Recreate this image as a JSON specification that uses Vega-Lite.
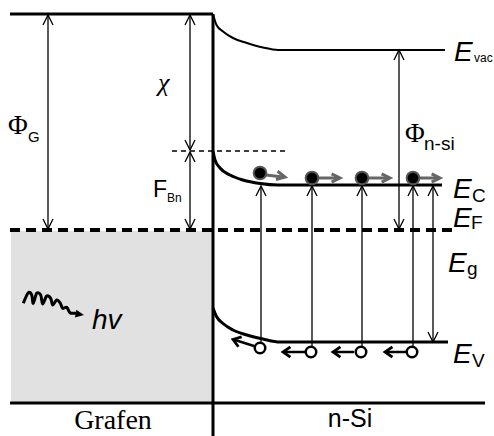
{
  "$schema": "https://vega.github.io/schema/vega-lite/v6.json",
  "width": 494,
  "height": 436,
  "padding": 0,
  "autosize": {"type": "none"},
  "background": "white",
  "config": {"view": {"stroke": null}},
  "datasets": {
    "box": [{"x": 11, "x2": 213, "y": 231, "y2": 403}],
    "lines": [
      {"id": "top", "kind": "thick", "ord": 0, "x": 10, "y": 14},
      {"id": "top", "kind": "thick", "ord": 1, "x": 213, "y": 14},
      {"id": "iface", "kind": "thick", "ord": 0, "x": 213, "y": 14},
      {"id": "iface", "kind": "thick", "ord": 1, "x": 213, "y": 436},
      {"id": "bottom", "kind": "thick", "ord": 0, "x": 10, "y": 403},
      {"id": "bottom", "kind": "thick", "ord": 1, "x": 485, "y": 403},
      {"id": "EC", "kind": "curve", "ord": 0, "x": 213, "y": 151},
      {"id": "EC", "kind": "curve", "ord": 1, "x": 215, "y": 160},
      {"id": "EC", "kind": "curve", "ord": 2, "x": 220, "y": 168},
      {"id": "EC", "kind": "curve", "ord": 3, "x": 230, "y": 175},
      {"id": "EC", "kind": "curve", "ord": 4, "x": 243, "y": 180},
      {"id": "EC", "kind": "curve", "ord": 5, "x": 260, "y": 183.5},
      {"id": "EC", "kind": "curve", "ord": 6, "x": 278, "y": 185},
      {"id": "EC", "kind": "curve", "ord": 7, "x": 442, "y": 185},
      {"id": "EV", "kind": "curve", "ord": 0, "x": 213, "y": 308},
      {"id": "EV", "kind": "curve", "ord": 1, "x": 216.5, "y": 316.5},
      {"id": "EV", "kind": "curve", "ord": 2, "x": 223, "y": 323.5},
      {"id": "EV", "kind": "curve", "ord": 3, "x": 233, "y": 330},
      {"id": "EV", "kind": "curve", "ord": 4, "x": 247, "y": 335},
      {"id": "EV", "kind": "curve", "ord": 5, "x": 263, "y": 339},
      {"id": "EV", "kind": "curve", "ord": 6, "x": 280, "y": 342},
      {"id": "EV", "kind": "curve", "ord": 7, "x": 448, "y": 342},
      {"id": "Evac", "kind": "vac", "ord": 0, "x": 213, "y": 14},
      {"id": "Evac", "kind": "vac", "ord": 1, "x": 216.5, "y": 25},
      {"id": "Evac", "kind": "vac", "ord": 2, "x": 223, "y": 31.5},
      {"id": "Evac", "kind": "vac", "ord": 3, "x": 233, "y": 38},
      {"id": "Evac", "kind": "vac", "ord": 4, "x": 247, "y": 43},
      {"id": "Evac", "kind": "vac", "ord": 5, "x": 263, "y": 47.5},
      {"id": "Evac", "kind": "vac", "ord": 6, "x": 278, "y": 50},
      {"id": "Evac", "kind": "vac", "ord": 7, "x": 445, "y": 50},
      {"id": "EF", "kind": "fermi", "ord": 0, "x": 10, "y": 230},
      {"id": "EF", "kind": "fermi", "ord": 1, "x": 458, "y": 230},
      {"id": "bar", "kind": "thindash", "ord": 0, "x": 172, "y": 151},
      {"id": "bar", "kind": "thindash", "ord": 1, "x": 288, "y": 151},
      {"id": "phiG", "kind": "arrow", "ord": 0, "x": 48, "y": 15},
      {"id": "phiG", "kind": "arrow", "ord": 1, "x": 48, "y": 229},
      {"id": "chi", "kind": "arrow", "ord": 0, "x": 190, "y": 15},
      {"id": "chi", "kind": "arrow", "ord": 1, "x": 190, "y": 150},
      {"id": "fbn", "kind": "arrow", "ord": 0, "x": 190, "y": 152},
      {"id": "fbn", "kind": "arrow", "ord": 1, "x": 190, "y": 229},
      {"id": "phin", "kind": "arrow", "ord": 0, "x": 399, "y": 50},
      {"id": "phin", "kind": "arrow", "ord": 1, "x": 399, "y": 229},
      {"id": "eg", "kind": "arrow", "ord": 0, "x": 433, "y": 186},
      {"id": "eg", "kind": "arrow", "ord": 1, "x": 433, "y": 342},
      {"id": "ex1", "kind": "arrow", "ord": 0, "x": 261, "y": 187},
      {"id": "ex1", "kind": "arrow", "ord": 1, "x": 261, "y": 342},
      {"id": "ex2", "kind": "arrow", "ord": 0, "x": 312, "y": 187},
      {"id": "ex2", "kind": "arrow", "ord": 1, "x": 312, "y": 346},
      {"id": "ex3", "kind": "arrow", "ord": 0, "x": 362, "y": 187},
      {"id": "ex3", "kind": "arrow", "ord": 1, "x": 362, "y": 346},
      {"id": "ex4", "kind": "arrow", "ord": 0, "x": 413, "y": 187},
      {"id": "ex4", "kind": "arrow", "ord": 1, "x": 413, "y": 346},
      {"id": "e1", "kind": "eflow", "ord": 0, "x": 266, "y": 175},
      {"id": "e1", "kind": "eflow", "ord": 1, "x": 283, "y": 177},
      {"id": "e2", "kind": "eflow", "ord": 0, "x": 319, "y": 178},
      {"id": "e2", "kind": "eflow", "ord": 1, "x": 337, "y": 178},
      {"id": "e3", "kind": "eflow", "ord": 0, "x": 369, "y": 178},
      {"id": "e3", "kind": "eflow", "ord": 1, "x": 387, "y": 178},
      {"id": "e4", "kind": "eflow", "ord": 0, "x": 420, "y": 178},
      {"id": "e4", "kind": "eflow", "ord": 1, "x": 437, "y": 178},
      {"id": "h1", "kind": "hflow", "ord": 0, "x": 254, "y": 346},
      {"id": "h1", "kind": "hflow", "ord": 1, "x": 235, "y": 340},
      {"id": "h2", "kind": "hflow", "ord": 0, "x": 305, "y": 352},
      {"id": "h2", "kind": "hflow", "ord": 1, "x": 285, "y": 352},
      {"id": "h3", "kind": "hflow", "ord": 0, "x": 354, "y": 352},
      {"id": "h3", "kind": "hflow", "ord": 1, "x": 335, "y": 352},
      {"id": "h4", "kind": "hflow", "ord": 0, "x": 406, "y": 352},
      {"id": "h4", "kind": "hflow", "ord": 1, "x": 387, "y": 352},
      {"id": "w", "kind": "wave", "ord": 0, "x": 23.3, "y": 303.3},
      {"id": "w", "kind": "wave", "ord": 1, "x": 28.3, "y": 292.7},
      {"id": "w", "kind": "wave", "ord": 2, "x": 31.7, "y": 295},
      {"id": "w", "kind": "wave", "ord": 3, "x": 33.3, "y": 303.3},
      {"id": "w", "kind": "wave", "ord": 4, "x": 36.7, "y": 293.3},
      {"id": "w", "kind": "wave", "ord": 5, "x": 40.7, "y": 295},
      {"id": "w", "kind": "wave", "ord": 6, "x": 42.7, "y": 304},
      {"id": "w", "kind": "wave", "ord": 7, "x": 46.7, "y": 296},
      {"id": "w", "kind": "wave", "ord": 8, "x": 50.7, "y": 298.3},
      {"id": "w", "kind": "wave", "ord": 9, "x": 52.7, "y": 305},
      {"id": "w", "kind": "wave", "ord": 10, "x": 56.7, "y": 300},
      {"id": "w", "kind": "wave", "ord": 11, "x": 60, "y": 302.7},
      {"id": "w", "kind": "wave", "ord": 12, "x": 62.7, "y": 308.3},
      {"id": "w", "kind": "wave", "ord": 13, "x": 66.7, "y": 307.3},
      {"id": "w", "kind": "wave", "ord": 14, "x": 70, "y": 312.7},
      {"id": "w", "kind": "wave", "ord": 15, "x": 75, "y": 313.3},
      {"id": "w", "kind": "wave", "ord": 16, "x": 80, "y": 314.5}
    ],
    "heads": [
      {"kind": "thin", "x": 48, "y": 15, "angle": 0},
      {"kind": "thin", "x": 48, "y": 229, "angle": 180},
      {"kind": "thin", "x": 190, "y": 15, "angle": 0},
      {"kind": "thin", "x": 190, "y": 150, "angle": 180},
      {"kind": "thin", "x": 190, "y": 152, "angle": 0},
      {"kind": "thin", "x": 190, "y": 229, "angle": 180},
      {"kind": "thin", "x": 399, "y": 50, "angle": 0},
      {"kind": "thin", "x": 399, "y": 229, "angle": 180},
      {"kind": "thin", "x": 433, "y": 186, "angle": 0},
      {"kind": "thin", "x": 433, "y": 342, "angle": 180},
      {"kind": "thin", "x": 261, "y": 186, "angle": 0},
      {"kind": "thin", "x": 312, "y": 186, "angle": 0},
      {"kind": "thin", "x": 362, "y": 186, "angle": 0},
      {"kind": "thin", "x": 413, "y": 186, "angle": 0},
      {"kind": "gray", "x": 285, "y": 177, "angle": 101},
      {"kind": "gray", "x": 340, "y": 178, "angle": 90},
      {"kind": "gray", "x": 390, "y": 178, "angle": 90},
      {"kind": "gray", "x": 440, "y": 178, "angle": 90},
      {"kind": "hole", "x": 233, "y": 339.5, "angle": 288},
      {"kind": "hole", "x": 283, "y": 352, "angle": 270},
      {"kind": "hole", "x": 333, "y": 352, "angle": 270},
      {"kind": "hole", "x": 385, "y": 352, "angle": 270},
      {"kind": "wave", "x": 84, "y": 315, "angle": 100}
    ],
    "electrons": [
      {"x": 260, "y": 173}, {"x": 312, "y": 178}, {"x": 362, "y": 178}, {"x": 413, "y": 178}
    ],
    "holes": [
      {"x": 260, "y": 348}, {"x": 311, "y": 352}, {"x": 361, "y": 352}, {"x": 412, "y": 352}
    ],
    "labels": [
      {"t": "E", "x": 454, "y": 61, "kind": "E"},
      {"t": "E", "x": 453, "y": 198, "kind": "E"},
      {"t": "E", "x": 453, "y": 227, "kind": "E"},
      {"t": "E", "x": 448, "y": 272, "kind": "E"},
      {"t": "E", "x": 453, "y": 363, "kind": "E"},
      {"t": "hv", "x": 92, "y": 329, "kind": "E"},
      {"t": "vac", "x": 474, "y": 62, "kind": "tiny"},
      {"t": "Bn", "x": 167, "y": 202, "kind": "tiny"},
      {"t": "C", "x": 472, "y": 202, "kind": "sub"},
      {"t": "F", "x": 471, "y": 229, "kind": "sub"},
      {"t": "g", "x": 467, "y": 275, "kind": "sub"},
      {"t": "V", "x": 472, "y": 367, "kind": "sub"},
      {"t": "n-si", "x": 424, "y": 150, "kind": "sub"},
      {"t": "G", "x": 28, "y": 142, "kind": "subG"},
      {"t": "F", "x": 153, "y": 197, "kind": "big"},
      {"t": "Φ", "x": 8, "y": 134, "kind": "phi"},
      {"t": "Φ", "x": 405, "y": 142, "kind": "phi"},
      {"t": "χ", "x": 158, "y": 91, "kind": "chi"},
      {"t": "Grafen", "x": 113, "y": 429, "kind": "grafen"},
      {"t": "n-Si", "x": 350, "y": 427, "kind": "nsi"}
    ]
  },
  "layer": [
    {
      "data": {"name": "box"},
      "mark": {"type": "rect", "fill": "#e1e1e1"},
      "encoding": {
        "x": {"field": "x", "type": "quantitative", "scale": {"domain": [0, 494], "nice": false, "zero": false}, "axis": null},
        "x2": {"field": "x2"},
        "y": {"field": "y", "type": "quantitative", "scale": {"domain": [0, 436], "reverse": true, "nice": false, "zero": false}, "axis": null},
        "y2": {"field": "y2"}
      }
    },
    {
      "data": {"name": "lines"},
      "transform": [{"filter": {"field": "kind", "equal": "thick"}}],
      "mark": {"type": "line", "stroke": "black", "strokeWidth": 3},
      "encoding": {
        "x": {"field": "x", "type": "quantitative", "scale": {"domain": [0, 494], "nice": false, "zero": false}, "axis": null},
        "y": {"field": "y", "type": "quantitative", "scale": {"domain": [0, 436], "reverse": true, "nice": false, "zero": false}, "axis": null},
        "detail": {"field": "id"},
        "order": {"field": "ord"}
      }
    },
    {
      "data": {"name": "lines"},
      "transform": [{"filter": {"field": "kind", "equal": "curve"}}],
      "mark": {"type": "line", "stroke": "black", "strokeWidth": 3, "interpolate": "monotone"},
      "encoding": {
        "x": {"field": "x", "type": "quantitative", "axis": null},
        "y": {"field": "y", "type": "quantitative", "axis": null},
        "detail": {"field": "id"},
        "order": {"field": "ord"}
      }
    },
    {
      "data": {"name": "lines"},
      "transform": [{"filter": {"field": "kind", "equal": "vac"}}],
      "mark": {"type": "line", "stroke": "black", "strokeWidth": 2, "interpolate": "monotone"},
      "encoding": {
        "x": {"field": "x", "type": "quantitative", "axis": null},
        "y": {"field": "y", "type": "quantitative", "axis": null},
        "detail": {"field": "id"},
        "order": {"field": "ord"}
      }
    },
    {
      "data": {"name": "lines"},
      "transform": [{"filter": {"field": "kind", "equal": "fermi"}}],
      "mark": {"type": "line", "stroke": "black", "strokeWidth": 4, "strokeDash": [10, 6]},
      "encoding": {
        "x": {"field": "x", "type": "quantitative", "axis": null},
        "y": {"field": "y", "type": "quantitative", "axis": null},
        "detail": {"field": "id"},
        "order": {"field": "ord"}
      }
    },
    {
      "data": {"name": "lines"},
      "transform": [{"filter": {"field": "kind", "equal": "thindash"}}],
      "mark": {"type": "line", "stroke": "black", "strokeWidth": 1.5, "strokeDash": [5, 4]},
      "encoding": {
        "x": {"field": "x", "type": "quantitative", "axis": null},
        "y": {"field": "y", "type": "quantitative", "axis": null},
        "detail": {"field": "id"},
        "order": {"field": "ord"}
      }
    },
    {
      "data": {"name": "lines"},
      "transform": [{"filter": {"field": "kind", "equal": "arrow"}}],
      "mark": {"type": "line", "stroke": "black", "strokeWidth": 1.3},
      "encoding": {
        "x": {"field": "x", "type": "quantitative", "axis": null},
        "y": {"field": "y", "type": "quantitative", "axis": null},
        "detail": {"field": "id"},
        "order": {"field": "ord"}
      }
    },
    {
      "data": {"name": "lines"},
      "transform": [{"filter": {"field": "kind", "equal": "eflow"}}],
      "mark": {"type": "line", "stroke": "#666666", "strokeWidth": 3},
      "encoding": {
        "x": {"field": "x", "type": "quantitative", "axis": null},
        "y": {"field": "y", "type": "quantitative", "axis": null},
        "detail": {"field": "id"},
        "order": {"field": "ord"}
      }
    },
    {
      "data": {"name": "lines"},
      "transform": [{"filter": {"field": "kind", "equal": "hflow"}}],
      "mark": {"type": "line", "stroke": "black", "strokeWidth": 2.5},
      "encoding": {
        "x": {"field": "x", "type": "quantitative", "axis": null},
        "y": {"field": "y", "type": "quantitative", "axis": null},
        "detail": {"field": "id"},
        "order": {"field": "ord"}
      }
    },
    {
      "data": {"name": "lines"},
      "transform": [{"filter": {"field": "kind", "equal": "wave"}}],
      "mark": {"type": "line", "stroke": "black", "strokeWidth": 3, "interpolate": "cardinal"},
      "encoding": {
        "x": {"field": "x", "type": "quantitative", "axis": null},
        "y": {"field": "y", "type": "quantitative", "axis": null},
        "detail": {"field": "id"},
        "order": {"field": "ord"}
      }
    },
    {
      "data": {"name": "heads"},
      "transform": [{"filter": {"field": "kind", "equal": "thin"}}],
      "mark": {"type": "point", "shape": "M-0.5,1L0,0L0.5,1", "filled": false, "stroke": "black", "strokeWidth": 1.3, "size": 400, "opacity": 1},
      "encoding": {
        "x": {"field": "x", "type": "quantitative", "axis": null},
        "y": {"field": "y", "type": "quantitative", "axis": null},
        "angle": {"field": "angle", "type": "quantitative", "scale": null}
      }
    },
    {
      "data": {"name": "heads"},
      "transform": [{"filter": {"field": "kind", "equal": "gray"}}],
      "mark": {"type": "point", "shape": "M-0.5,1L0,0L0.5,1", "filled": false, "stroke": "#666666", "strokeWidth": 3, "size": 280, "opacity": 1},
      "encoding": {
        "x": {"field": "x", "type": "quantitative", "axis": null},
        "y": {"field": "y", "type": "quantitative", "axis": null},
        "angle": {"field": "angle", "type": "quantitative", "scale": null}
      }
    },
    {
      "data": {"name": "heads"},
      "transform": [{"filter": {"field": "kind", "equal": "hole"}}],
      "mark": {"type": "point", "shape": "M-0.7,1L0,0L0.7,1", "filled": false, "stroke": "black", "strokeWidth": 2.8, "size": 220, "opacity": 1},
      "encoding": {
        "x": {"field": "x", "type": "quantitative", "axis": null},
        "y": {"field": "y", "type": "quantitative", "axis": null},
        "angle": {"field": "angle", "type": "quantitative", "scale": null}
      }
    },
    {
      "data": {"name": "heads"},
      "transform": [{"filter": {"field": "kind", "equal": "wave"}}],
      "mark": {"type": "point", "shape": "M0,0L-0.6,1.3L0.6,1.3Z", "filled": true, "fill": "black", "size": 170, "opacity": 1},
      "encoding": {
        "x": {"field": "x", "type": "quantitative", "axis": null},
        "y": {"field": "y", "type": "quantitative", "axis": null},
        "angle": {"field": "angle", "type": "quantitative", "scale": null}
      }
    },
    {
      "data": {"name": "electrons"},
      "mark": {"type": "circle", "fill": "black", "stroke": "#555555", "strokeWidth": 2, "size": 160, "opacity": 1},
      "encoding": {
        "x": {"field": "x", "type": "quantitative", "axis": null},
        "y": {"field": "y", "type": "quantitative", "axis": null}
      }
    },
    {
      "data": {"name": "holes"},
      "mark": {"type": "point", "shape": "circle", "filled": true, "fill": "white", "stroke": "black", "strokeWidth": 2.5, "size": 110, "opacity": 1},
      "encoding": {
        "x": {"field": "x", "type": "quantitative", "axis": null},
        "y": {"field": "y", "type": "quantitative", "axis": null}
      }
    },
    {
      "data": {"name": "labels"},
      "transform": [{"filter": {"field": "kind", "equal": "E"}}],
      "mark": {"type": "text", "align": "left", "baseline": "alphabetic", "font": "Liberation Sans", "fontStyle": "italic", "fontSize": 28, "color": "black"},
      "encoding": {
        "x": {"field": "x", "type": "quantitative", "axis": null},
        "y": {"field": "y", "type": "quantitative", "axis": null},
        "text": {"field": "t"}
      }
    },
    {
      "data": {"name": "labels"},
      "transform": [{"filter": {"field": "kind", "equal": "tiny"}}],
      "mark": {"type": "text", "align": "left", "baseline": "alphabetic", "font": "Liberation Sans", "fontSize": 12, "color": "black"},
      "encoding": {
        "x": {"field": "x", "type": "quantitative", "axis": null},
        "y": {"field": "y", "type": "quantitative", "axis": null},
        "text": {"field": "t"}
      }
    },
    {
      "data": {"name": "labels"},
      "transform": [{"filter": {"field": "kind", "equal": "sub"}}],
      "mark": {"type": "text", "align": "left", "baseline": "alphabetic", "font": "Liberation Sans", "fontSize": 19, "color": "black"},
      "encoding": {
        "x": {"field": "x", "type": "quantitative", "axis": null},
        "y": {"field": "y", "type": "quantitative", "axis": null},
        "text": {"field": "t"}
      }
    },
    {
      "data": {"name": "labels"},
      "transform": [{"filter": {"field": "kind", "equal": "subG"}}],
      "mark": {"type": "text", "align": "left", "baseline": "alphabetic", "font": "Liberation Sans", "fontSize": 15, "color": "black"},
      "encoding": {
        "x": {"field": "x", "type": "quantitative", "axis": null},
        "y": {"field": "y", "type": "quantitative", "axis": null},
        "text": {"field": "t"}
      }
    },
    {
      "data": {"name": "labels"},
      "transform": [{"filter": {"field": "kind", "equal": "big"}}],
      "mark": {"type": "text", "align": "left", "baseline": "alphabetic", "font": "Liberation Sans", "fontSize": 23, "color": "black"},
      "encoding": {
        "x": {"field": "x", "type": "quantitative", "axis": null},
        "y": {"field": "y", "type": "quantitative", "axis": null},
        "text": {"field": "t"}
      }
    },
    {
      "data": {"name": "labels"},
      "transform": [{"filter": {"field": "kind", "equal": "phi"}}],
      "mark": {"type": "text", "align": "left", "baseline": "alphabetic", "font": "Liberation Serif", "fontSize": 27, "color": "black"},
      "encoding": {
        "x": {"field": "x", "type": "quantitative", "axis": null},
        "y": {"field": "y", "type": "quantitative", "axis": null},
        "text": {"field": "t"}
      }
    },
    {
      "data": {"name": "labels"},
      "transform": [{"filter": {"field": "kind", "equal": "chi"}}],
      "mark": {"type": "text", "align": "left", "baseline": "alphabetic", "font": "Liberation Serif", "fontStyle": "italic", "fontSize": 26, "color": "black"},
      "encoding": {
        "x": {"field": "x", "type": "quantitative", "axis": null},
        "y": {"field": "y", "type": "quantitative", "axis": null},
        "text": {"field": "t"}
      }
    },
    {
      "data": {"name": "labels"},
      "transform": [{"filter": {"field": "kind", "equal": "grafen"}}],
      "mark": {"type": "text", "align": "center", "baseline": "alphabetic", "font": "Liberation Serif", "fontSize": 28, "color": "black"},
      "encoding": {
        "x": {"field": "x", "type": "quantitative", "axis": null},
        "y": {"field": "y", "type": "quantitative", "axis": null},
        "text": {"field": "t"}
      }
    },
    {
      "data": {"name": "labels"},
      "transform": [{"filter": {"field": "kind", "equal": "nsi"}}],
      "mark": {"type": "text", "align": "center", "baseline": "alphabetic", "font": "Liberation Sans", "fontSize": 25, "color": "black"},
      "encoding": {
        "x": {"field": "x", "type": "quantitative", "axis": null},
        "y": {"field": "y", "type": "quantitative", "axis": null},
        "text": {"field": "t"}
      }
    }
  ]
}
